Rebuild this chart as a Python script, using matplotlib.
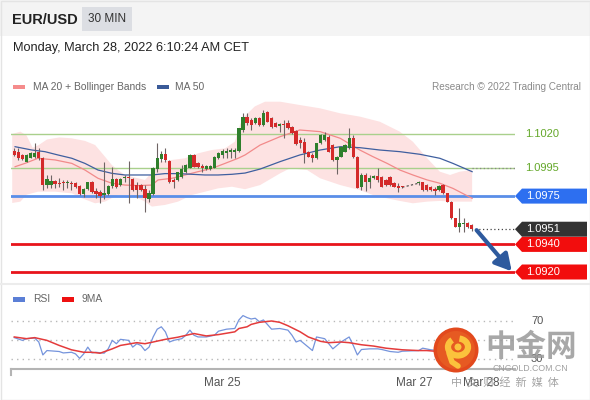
import numpy as np
import matplotlib.pyplot as plt
from matplotlib import transforms
from matplotlib.patches import Rectangle, Polygon, Circle, Arc

plt.rcParams['font.family'] = ['Liberation Sans', 'DejaVu Sans']

# EUR/USD 30 min candles: friday session, then sunday evening / monday morning
opens = [1.10077, 1.10067, 1.10048, 1.10000, 1.10029, 1.10036, 1.10072, 1.10024, 1.09830, 1.09830,
         1.09860, 1.09845, 1.09845, 1.09843, 1.09845, 1.09843, 1.09825, 1.09763, 1.09801, 1.09855,
         1.09787, 1.09777, 1.09758, 1.09763, 1.09826, 1.09874, 1.09830, 1.09884, 1.09886, 1.09874,
         1.09830, 1.09830, 1.09801, 1.09729, 1.09763, 1.09946, 1.10019, 1.10053, 1.10005, 1.09867,
         1.09867, 1.09891, 1.09922, 1.09956, 1.10048, 1.09990, 1.09970, 1.09946, 1.09948, 1.09956,
         1.10024, 1.10048, 1.10060, 1.10067, 1.10067, 1.10077, 1.10229, 1.10326, 1.10301, 1.10277,
         1.10314, 1.10265, 1.10357, 1.10314, 1.10277, 1.10260, 1.10267, 1.10277, 1.10253, 1.10222,
         1.10157, 1.10144, 1.10072, 1.10048, 1.10024, 1.10132, 1.10157, 1.10181, 1.10120, 1.10012,
         1.10036, 1.10072, 1.10096, 1.10174, 1.10036, 1.09818, 1.09903, 1.09850, 1.09879, 1.09898,
         1.09891, 1.09867, 1.09891, 1.09843, 1.09823, 1.09816,
         1.09843, 1.09850, 1.09830, 1.09818, 1.09800, 1.09794, 1.09830, 1.09770, 1.09710, 1.09589,
         1.09529, 1.09545, 1.09553, 1.09541]
highs = [1.10096, 1.10096, 1.10055, 1.10055, 1.10072, 1.10132, 1.10096, 1.10030, 1.09903, 1.09903,
         1.09867, 1.09879, 1.09867, 1.09867, 1.09860, 1.09850, 1.09830, 1.09806, 1.09855, 1.09860,
         1.09806, 1.09794, 1.10000, 1.09830, 1.09963, 1.09879, 1.09879, 1.09903, 1.10005, 1.09879,
         1.09855, 1.09840, 1.09830, 1.09794, 1.09960, 1.10132, 1.10077, 1.10096, 1.10012, 1.09879,
         1.09927, 1.09975, 1.09980, 1.10053, 1.10053, 1.09995, 1.09980, 1.09975, 1.09975, 1.10040,
         1.10067, 1.10091, 1.10096, 1.10096, 1.10101, 1.10246, 1.10350, 1.10350, 1.10314, 1.10326,
         1.10320, 1.10374, 1.10365, 1.10320, 1.10284, 1.10280, 1.10301, 1.10301, 1.10260, 1.10229,
         1.10181, 1.10169, 1.10077, 1.10060, 1.10137, 1.10200, 1.10212, 1.10190, 1.10125, 1.10040,
         1.10115, 1.10125, 1.10241, 1.10193, 1.10040, 1.09915, 1.09915, 1.09903, 1.09905, 1.09956,
         1.09898, 1.09872, 1.09898, 1.09850, 1.09843, 1.09823,
         1.09860, 1.09855, 1.09835, 1.09823, 1.09815, 1.09833, 1.09840, 1.09775, 1.09715, 1.09594,
         1.09662, 1.09589, 1.09560, 1.09545]
lows = [1.10043, 1.10012, 1.10010, 1.09995, 1.10024, 1.10024, 1.10012, 1.09794, 1.09806, 1.09806,
        1.09806, 1.09818, 1.09794, 1.09806, 1.09794, 1.09810, 1.09758, 1.09746, 1.09794, 1.09775,
        1.09734, 1.09698, 1.09729, 1.09758, 1.09806, 1.09810, 1.09825, 1.09850, 1.09698, 1.09790,
        1.09734, 1.09785, 1.09637, 1.09710, 1.09755, 1.09927, 1.10000, 1.10000, 1.09845, 1.09806,
        1.09860, 1.09879, 1.09915, 1.09951, 1.09958, 1.09955, 1.09927, 1.09939, 1.09941, 1.09951,
        1.10019, 1.10024, 1.10024, 1.10024, 1.10024, 1.10072, 1.10217, 1.10265, 1.10229, 1.10270,
        1.10260, 1.10260, 1.10284, 1.10245, 1.10248, 1.10217, 1.10169, 1.10236, 1.10200, 1.10120,
        1.10096, 1.09987, 1.10030, 1.10000, 1.10019, 1.10125, 1.10150, 1.10067, 1.10005, 1.09908,
        1.10030, 1.10067, 1.10091, 1.10024, 1.09806, 1.09794, 1.09787, 1.09806, 1.09872, 1.09855,
        1.09813, 1.09825, 1.09825, 1.09813, 1.09782, 1.09806,
        1.09830, 1.09790, 1.09789, 1.09785, 1.09760, 1.09785, 1.09765, 1.09705, 1.09584, 1.09524,
        1.09492, 1.09492, 1.09520, 1.09500]
closes = [1.10048, 1.10024, 1.10019, 1.10048, 1.10060, 1.10060, 1.10024, 1.09830, 1.09874, 1.09860,
          1.09835, 1.09835, 1.09843, 1.09845, 1.09840, 1.09818, 1.09763, 1.09801, 1.09850, 1.09782,
          1.09763, 1.09753, 1.09770, 1.09826, 1.09874, 1.09818, 1.09874, 1.09886, 1.09884, 1.09794,
          1.09794, 1.09794, 1.09734, 1.09770, 1.09951, 1.10024, 1.10053, 1.10012, 1.09850, 1.09850,
          1.09922, 1.09946, 1.09975, 1.10048, 1.09963, 1.09963, 1.09951, 1.09965, 1.09965, 1.10036,
          1.10060, 1.10077, 1.10077, 1.10084, 1.10084, 1.10241, 1.10326, 1.10277, 1.10265, 1.10314,
          1.10265, 1.10350, 1.10289, 1.10253, 1.10253, 1.10275, 1.10263, 1.10241, 1.10205, 1.10125,
          1.10132, 1.10060, 1.10036, 1.10024, 1.10132, 1.10193, 1.10193, 1.10072, 1.10012, 1.10036,
          1.10108, 1.10120, 1.10174, 1.10036, 1.09811, 1.09903, 1.09855, 1.09884, 1.09898, 1.09867,
          1.09818, 1.09830, 1.09830, 1.09818, 1.09811, 1.09814,
          1.09845, 1.09794, 1.09794, 1.09794, 1.09790, 1.09825, 1.09770, 1.09710, 1.09589, 1.09529,
          1.09553, 1.09553, 1.09529, 1.09510]

# slot of each candle (weekend gap between the two sessions)
pos = np.r_[np.arange(96), np.arange(99, 113)]

# bollinger band edges, MA20 and MA50 read at slot positions
upper_pos = [-0.5, 1.5, 3.0, 4.5, 6.0, 8.0, 11, 14, 17.3, 19.8, 22.2, 23.9, 25.4, 27.1, 30.3, 32.0,
             33.7, 35.7, 38.6, 41.8, 45.0, 48.4, 51.6, 54.0, 55.3, 56.5, 58.9, 61.4, 65.1, 69.9,
             74.9, 79.8, 84.6, 89.5, 94.4, 97.6, 101.1, 104.2, 106.7, 109.1, 112.1]
upper = [1.10200, 1.10217, 1.10190, 1.10100, 1.10120, 1.10160, 1.10175, 1.10169, 1.10150, 1.10120,
         1.10036, 1.09975, 1.09939, 1.09903, 1.09879, 1.09867, 1.09920, 1.10000, 1.10012, 1.10024,
         1.10060, 1.10084, 1.10096, 1.10144, 1.10270, 1.10330, 1.10400, 1.10434, 1.10434, 1.10410,
         1.10386, 1.10350, 1.10326, 1.10289, 1.10217, 1.10144, 1.10024, 1.09927, 1.09903, 1.09927,
         1.09939]
lower_pos = [-0.5, 1.5, 3.0, 5.8, 10.0, 14.1, 16.6, 19.8, 22.2, 25.4, 28.8, 32.0, 33.7, 36.9, 40.1,
             43.5, 46.7, 49.9, 53.3, 56.5, 60.2, 65.1, 67.5, 71.7, 74.9, 79.8, 84.6, 87.8, 91.3,
             94.4, 97.6, 101.1, 104.2, 107.4, 112.1]
lower = [1.09700, 1.09710, 1.09760, 1.09782, 1.09782, 1.09770, 1.09734, 1.09698, 1.09710, 1.09758,
         1.09758, 1.09710, 1.09674, 1.09686, 1.09710, 1.09758, 1.09782, 1.09806, 1.09818, 1.09800,
         1.09830, 1.09915, 1.09951, 1.09939, 1.09879, 1.09830, 1.09794, 1.09758, 1.09734, 1.09715,
         1.09698, 1.09710, 1.09715, 1.09710, 1.09710]
ma20_pos = [0.2, 2.6, 5.8, 10.0, 14.1, 17.3, 20.5, 23.9, 27.1, 30.3, 33.7, 35.2, 38.6, 41.8, 45.0,
            48.4, 51.6, 54.8, 56.5, 60.2, 65.1, 69.9, 74.9, 79.8, 84.6, 87.8, 91.3, 94.4, 97.6,
            101.1, 104.2, 107.4, 112.1]
ma20 = [1.09963, 1.09987, 1.10024, 1.10012, 1.09987, 1.09939, 1.09879, 1.09843, 1.09830, 1.09826,
        1.09830, 1.09867, 1.09879, 1.09903, 1.09927, 1.09951, 1.09987, 1.10024, 1.10048, 1.10120,
        1.10181, 1.10229, 1.10217, 1.10169, 1.10084, 1.10036, 1.09987, 1.09939, 1.09903, 1.09867,
        1.09843, 1.09806, 1.09734]
ma50_pos = [0.2, 4.3, 7.5, 10.7, 14.1, 17.3, 20.5, 23.9, 27.1, 30.3, 33.7, 36.9, 40.1, 43.5, 46.7,
            49.9, 53.3, 56.5, 60.2, 65.1, 69.9, 74.9, 79.8, 84.6, 89.5, 94.4, 99.3, 104.2, 107.4,
            112.1]
ma50 = [1.10108, 1.10084, 1.10072, 1.10048, 1.10024, 1.09987, 1.09939, 1.09915, 1.09903, 1.09903,
        1.09903, 1.09913, 1.09913, 1.09908, 1.09903, 1.09903, 1.09908, 1.09917, 1.09946, 1.10000,
        1.10048, 1.10084, 1.10108, 1.10101, 1.10084, 1.10072, 1.10053, 1.10024, 1.09987, 1.09927]

# RSI and its 9 period MA
rsi_pos = [0, 2, 3, 5, 6, 7, 8, 11, 12, 14, 15, 16, 17, 18, 19, 20, 22, 23, 24, 25, 26, 28, 29, 30,
           31, 32, 33, 34, 35, 36, 37, 38, 39, 41, 42, 43, 44, 45, 47, 49, 50, 52, 54, 55, 56, 57,
           58, 59, 60, 61, 63, 65, 67, 68, 69, 70, 72, 73, 74, 76, 77, 78, 79, 80, 82, 83, 84, 85,
           87, 89, 90, 92, 94, 95, 99, 100, 102, 104, 106, 108, 110, 112]
rsi = [52.5, 49.6, 51.4, 52.1, 47.9, 34.3, 38.9, 37.9, 36.4, 37.1, 35.4, 30.7, 35.4, 42.5, 36.4,
       37.1, 36.1, 40.7, 49.6, 46.1, 50.7, 49.6, 42.5, 46.1, 44.3, 38.9, 42.5, 53.2, 61.4, 63.9,
       58.6, 47.9, 49.6, 51.4, 55.0, 60.4, 55.0, 53.2, 53.2, 55.0, 59.3, 61.4, 62.1, 71.1, 75.7,
       73.6, 72.1, 72.9, 69.3, 71.1, 61.4, 62.1, 60.4, 55.0, 47.9, 49.6, 42.5, 38.9, 53.2, 51.4,
       46.1, 40.7, 44.3, 47.9, 53.2, 44.3, 34.3, 40.0, 40.7, 40.7, 40.0, 37.9, 37.1, 38.2, 38.9,
       41.4, 39.7, 38.9, 34.0, 31.0, 30.5, 29.5]
ma9_pos = [0, 3, 5, 8, 11, 14, 17, 19, 21, 24, 26, 30, 32, 34, 37, 40, 44, 47, 50, 54, 55, 57, 58,
           60, 63, 65, 67, 70, 72, 75, 77, 80, 82, 85, 88, 91, 95, 99, 101, 103, 106, 109, 112]
ma9 = [53.2, 51.4, 52.5, 49.6, 44.3, 39.7, 37.1, 37.1, 36.1, 40.7, 44.3, 47.2, 46.1, 47.9, 50.7,
       52.9, 56.8, 54.3, 55.7, 58.6, 62.1, 63.9, 66.4, 68.6, 70.0, 68.6, 65.0, 58.6, 53.2, 48.6,
       47.2, 47.9, 47.2, 45.0, 43.6, 41.4, 39.7, 38.9, 38.9, 38.2, 37.5, 36.0, 34.5]

resistances = [1.1020, 1.0995]
pivot = 1.0975
supports = [1.0940, 1.0920]
last_price = 1.0951
target = 1.0920
tick_pos = [50.9, 97.9, 114.3]
tick_labels = ['Mar 25', 'Mar 27', 'Mar 28']

XMIN, XMAX = -0.8, 122.6
YMIN, YMAX = 1.091203, 1.104826

fig = plt.figure(figsize=(5.9, 4.0), dpi=100)

# page decoration in pixel coordinates
deco = fig.add_axes([0, 0, 1, 1], zorder=0)
deco.set_xlim(0, 590)
deco.set_ylim(400, 0)
deco.axis('off')
deco.add_patch(Rectangle((0, 0), 590, 36, color='#f4f4f4', lw=0))
deco.add_patch(Rectangle((82, 7), 50, 24, color='#dcdee3', lw=0))
deco.add_patch(Rectangle((0.5, 0.5), 589, 399, fill=False, ec='#e4e4e4', lw=1))
deco.plot([0, 590], [284, 284], color='#ececec', lw=1.5)
deco.text(12, 19.5, 'EUR/USD', fontsize=10.5, fontweight='bold', color='#222222', va='center')
deco.text(107, 19.5, '30 MIN', fontsize=8.5, color='#333333', ha='center', va='center')
deco.text(13, 48, 'Monday, March 28, 2022 6:10:24 AM CET', fontsize=9.2, color='#222222', va='center')
deco.add_patch(Rectangle((13, 84.5), 12, 4.5, color='#f58c8c', lw=0))
deco.text(33, 86.5, 'MA 20 + Bollinger Bands', fontsize=7.4, color='#666666', va='center')
deco.add_patch(Rectangle((157, 84.5), 12, 4.5, color='#3a5a98', lw=0))
deco.text(175, 86.5, 'MA 50', fontsize=7.4, color='#666666', va='center')
deco.text(581, 86.5, 'Research \u00a9 2022 Trading Central', fontsize=7.2, color='#8a8a8a',
          ha='right', va='center')
deco.add_patch(Rectangle((13, 297), 12, 4.5, color='#5b7fd6', lw=0))
deco.text(33, 299, 'RSI', fontsize=7.4, color='#666666', va='center')
deco.add_patch(Rectangle((62, 297), 12, 4.5, color='#ee1111', lw=0))
deco.text(82, 299, '9MA', fontsize=7.4, color='#666666', va='center')
deco.plot([11, 11], [369, 375], color='#b4b4b4', lw=1.5)

# price pane
axp = fig.add_axes([11 / 590, 117 / 400, 504 / 590, 188 / 400], zorder=2)
axp.set_xlim(XMIN, XMAX)
axp.set_ylim(YMIN, YMAX)
axp.axis('off')

axp.fill(np.r_[upper_pos, lower_pos[::-1]], np.r_[upper, lower[::-1]],
         color='#fde2e2', lw=0, zorder=1)
axp.plot(ma20_pos, ma20, color='#f28a8a', lw=0.9, zorder=2)
axp.plot(ma50_pos, ma50, color='#3f5f9f', lw=0.9, zorder=2)

for lvl in resistances:
    axp.axhline(lvl, color='#a9d08c', lw=1, zorder=1.5)
axp.axhline(pivot, color='#5a8ee8', lw=2, zorder=1.5)
for lvl in supports:
    axp.axhline(lvl, color='#e8141b', lw=2, zorder=1.5)

o, h, l, c = map(np.array, (opens, highs, lows, closes))
rising = c >= o
axp.vlines(pos, l, h, color='#6e6464', lw=0.8, zorder=3)
axp.bar(pos, np.maximum(np.abs(c - o), 0.00006), bottom=np.minimum(o, c), width=0.8,
        color=np.where(rising, '#2f7f2c', '#d42a2a'), lw=0, zorder=4)
axp.plot([pos[95], pos[96]], [c[95], o[96]], color='#444444', lw=0.8, ls=(0, (2, 2)), zorder=3)

axp.plot([pos[-1] + 0.8, XMAX], [last_price, last_price], color='#444444', lw=0.9,
         ls=(0, (1, 2)), zorder=3)
axp.plot([ma50_pos[-1], XMAX], [resistances[1], resistances[1]], color='#888888', lw=0.9,
         ls=(0, (1, 2)), zorder=3)

axp.annotate('', xy=(121.8, target + 0.00005), xytext=(113.2, last_price - 0.00007),
             arrowprops=dict(arrowstyle='-|>,head_length=0.9,head_width=0.5', lw=3,
                             color='#2e5a9e', mutation_scale=11, shrinkA=0, shrinkB=0),
             annotation_clip=False, zorder=6)

tr = transforms.blended_transform_factory(axp.transAxes, axp.transData)
hh = 7.5 * (YMAX - YMIN) / 188


def tag(price, fc):
    x0, x1, x2 = 1.0, 1 + 7 / 504, 1 + 72 / 504
    axp.add_patch(Polygon([(x0, price), (x1, price + hh), (x2, price + hh), (x2, price - hh),
                           (x1, price - hh)], closed=True, transform=tr, fc=fc, ec='none',
                          clip_on=False, zorder=5))
    axp.text(1 + 11 / 504, price, f'{price:.4f}', transform=tr, color='white', fontsize=8,
             va='center', clip_on=False, zorder=6)


for lvl in resistances:
    axp.text(1 + 10 / 504, lvl, f'{lvl:.4f}', transform=tr, color='#64a82a', fontsize=8,
             va='center', clip_on=False)
tag(pivot, '#2d6ff0')
tag(last_price, '#333333')
for lvl in supports:
    tag(lvl, '#f20d0d')

# RSI pane
axr = fig.add_axes([11 / 590, 31 / 400, 504 / 590, 79 / 400], zorder=2)
axr.set_xlim(XMIN, XMAX)
axr.set_ylim(19.5, 102.6)
axr.patch.set_alpha(0)
for s in ['top', 'right', 'left']:
    axr.spines[s].set_visible(False)
axr.spines['bottom'].set_color('#b4b4b4')
axr.spines['bottom'].set_linewidth(1.5)
axr.set_yticks([])
axr.set_xticks(tick_pos)
axr.set_xticklabels(tick_labels, fontsize=8.5, color='#555555')
axr.tick_params(axis='x', length=0, pad=6)
for v in (70, 50, 30):
    axr.axhline(v, color='#b8b8b8', lw=1, ls=(0, (1, 3)))
axr.plot(rsi_pos, rsi, color='#7594dc', lw=0.9)
axr.plot(ma9_pos, ma9, color='#e43b3b', lw=1.1)
tr2 = transforms.blended_transform_factory(axr.transAxes, axr.transData)
for v in (70, 30):
    axr.text(1 + 16 / 504, v, str(v), transform=tr2, color='#555555', fontsize=8, va='center')

# cngold watermark
wm = fig.add_axes([0, 0, 1, 1], zorder=5)
wm.set_xlim(0, 590)
wm.set_ylim(400, 0)
wm.axis('off')
wm.add_patch(Circle((456, 350), 22.5, fc='#e2491d', ec='none'))
wm.add_patch(Circle((456, 350), 19, fc='#e65a22', ec='none'))
wm.add_patch(Arc((458, 347), 20, 17, theta1=-80, theta2=230, lw=4.5, color='#fbc23c'))
wm.add_patch(Circle((458, 347), 3.5, fc='#fbc23c', ec='none'))
wm.plot([449, 452, 458], [353, 362, 366], color='#fbc23c', lw=4, solid_capstyle='round')
wm.text(531, 347, '中金网', fontsize=22, fontweight='bold', color='#999999', alpha=0.85,
        ha='center', va='center', family=['Noto Sans CJK SC', 'DejaVu Sans'])
wm.text(530, 368.5, 'CNGOLD.COM.CN', fontsize=6.3, color='#a0a0a0', ha='center', va='center')
wm.text(505, 382, '中  文  财  经  新  媒  体', fontsize=8, color='#9a9a9a', alpha=0.9,
        ha='center', va='center', family=['Noto Sans CJK SC', 'DejaVu Sans'])

fig.savefig('out.png', dpi=100)
